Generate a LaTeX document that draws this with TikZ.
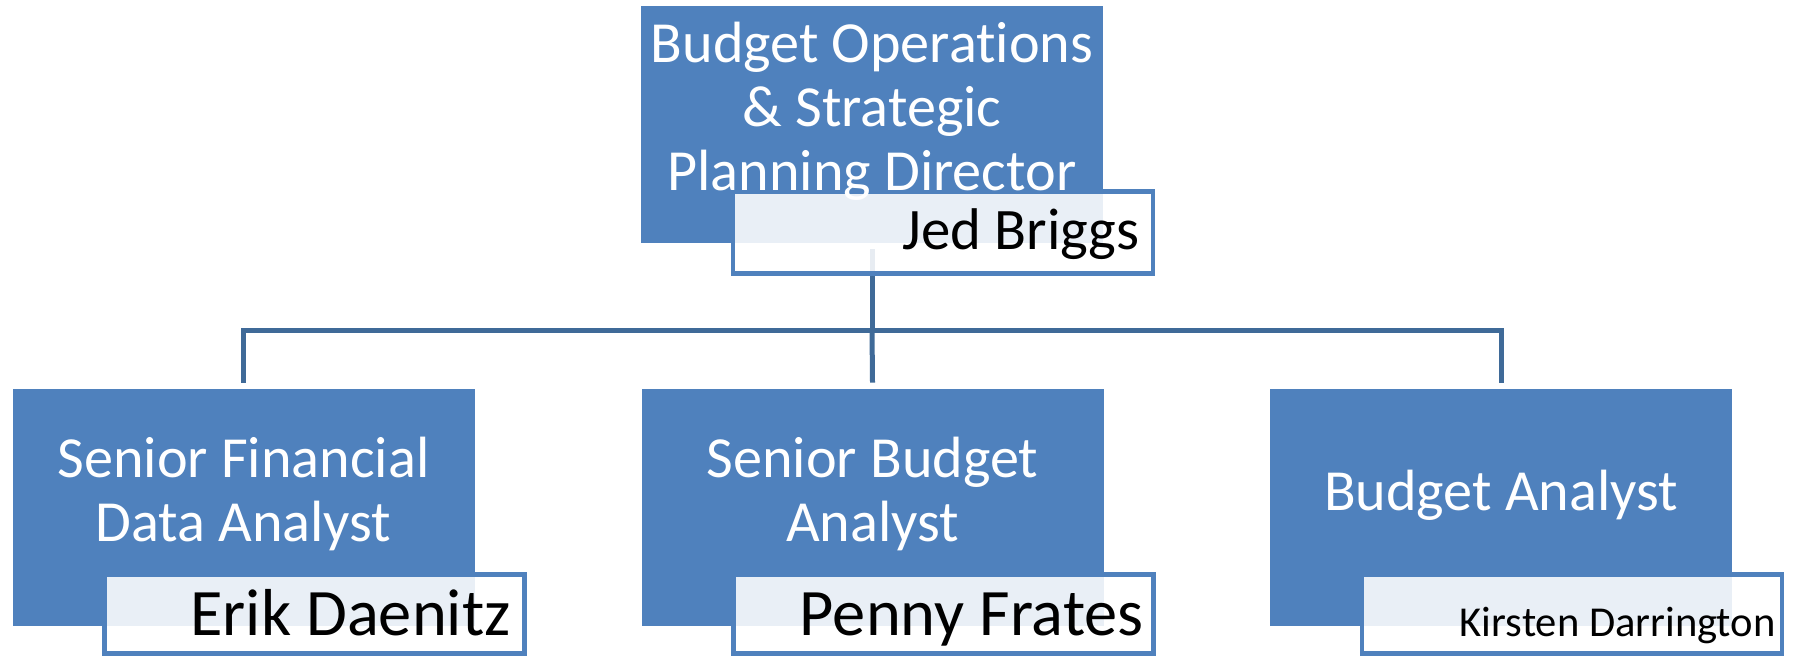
\documentclass[tikz,border=0pt]{standalone}
\usepackage{fontspec}
\setmainfont{Carlito}[RawFeature={-liga;-clig;-calt;-dlig}]
\definecolor{boxblue}{HTML}{4F81BD}
\definecolor{linkblue}{HTML}{3F6A98}
\begin{document}
\begin{tikzpicture}[x=0.5pt,y=-0.5pt,
  rolebox/.style={rectangle, fill=boxblue, draw=none, minimum width=231pt, minimum height=118.5pt, inner sep=0pt},
  namebox/.style={rectangle, fill=white, fill opacity=0.88, draw=boxblue, line width=2.25pt, minimum width=210pt, inner sep=0pt},
  roletext/.style={anchor=base, text=white, inner sep=0pt, font=\fontsize{29.1}{32}\selectfont},
  nametext/.style={anchor=base east, text=black, inner sep=0pt},
  link/.style={draw=linkblue, line width=2.5pt}]
\fill[white] (0,0) rectangle (1797,655);
\useasboundingbox (0,0) rectangle (1797,655);
% role boxes
\node[rolebox] (top) at (872,124.5) {};
\node[rolebox] (r1) at (243.5,507.5) {};
\node[rolebox] (r2) at (872.5,507.5) {};
\node[rolebox] (r3) at (1501,507.5) {};
% connectors
\coordinate (busL) at (243.5,330);
\coordinate (busR) at (1501,330);
\draw[link] ([yshift=-3pt]top.south) -- (top.south |- busL);
\draw[link] ([yshift=3pt]r1.north) -- (busL) -- (busR) -- ([yshift=3pt]r3.north);
\draw[link] (top.south |- busL) -- ([yshift=3pt]r2.north);
% name boxes
\node[namebox, minimum height=41pt] (ntop) at (943,232.5) {};
\node[namebox, minimum height=39.5pt] (n1) at (314.5,614) {};
\node[namebox, minimum height=39.5pt] (n2) at (943.5,614) {};
\node[namebox, minimum height=39.5pt] (n3) at (1572,614) {};
% role titles
\node[roletext] (ttop) at (872,62) {\begin{tabular}[t]{@{}c@{}}Budget Operations\\ \& Strategic\\ Planning Director\end{tabular}};
\node[roletext] (t1) at (243.5,477) {\begin{tabular}[t]{@{}c@{}}Senior Financial\\ Data Analyst\end{tabular}};
\node[roletext] (t2) at (872.5,477) {\begin{tabular}[t]{@{}c@{}}Senior Budget\\ Analyst\end{tabular}};
\node[roletext] (t3) at (1501,510) {Budget Analyst};
% names
\node[nametext, font=\fontsize{29.4}{35}\selectfont] (mtop) at (1140,249) {Jed Briggs};
\node[nametext, font=\fontsize{33.2}{40}\selectfont] (m1) at (511,635) {Erik Daenitz};
\node[nametext, font=\fontsize{33.2}{40}\selectfont] (m2) at (1144,635) {Penny Frates};
\node[nametext, font=\fontsize{21.3}{25}\selectfont] (m3) at (1776,636) {Kirsten Darrington};
\end{tikzpicture}
\end{document}
